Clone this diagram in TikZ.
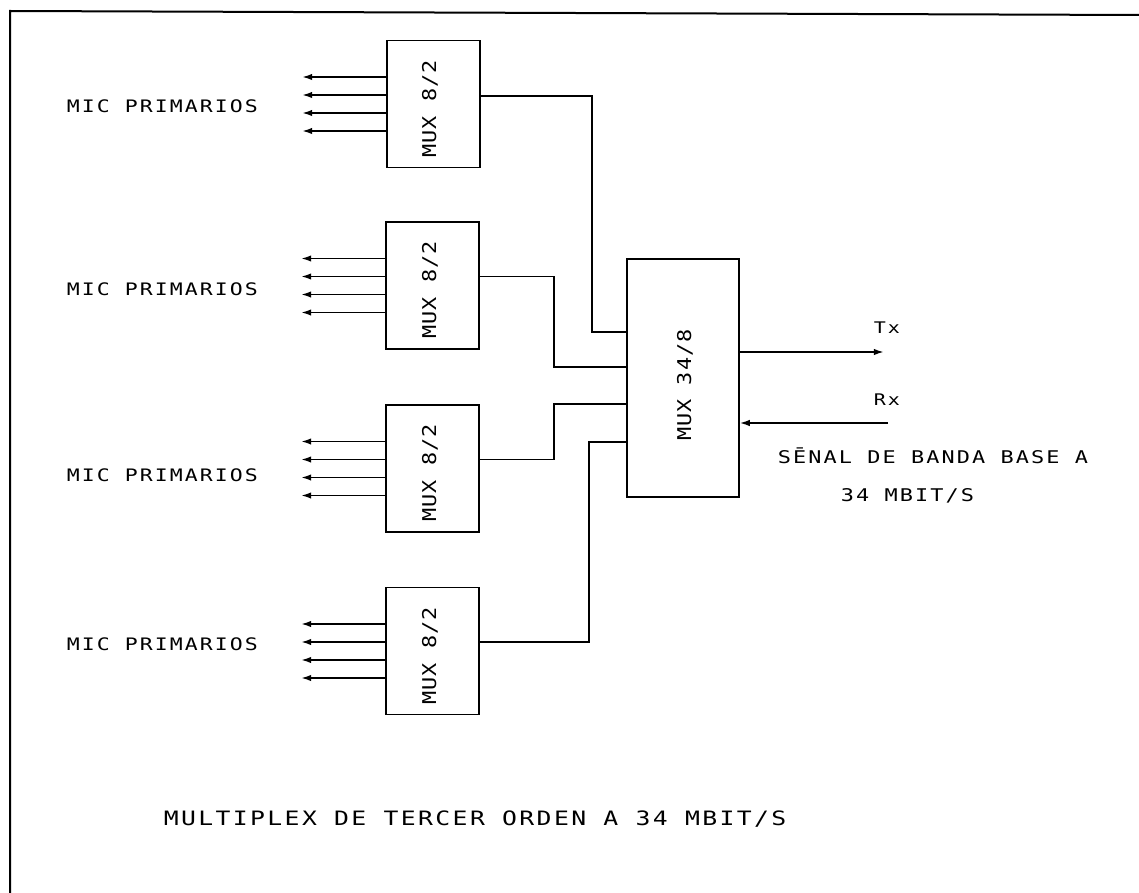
\documentclass[tikz,border=0pt]{standalone}
\usepackage{fontspec}
\usetikzlibrary{arrows.meta,calc}
\newfontfamily\plotfont[FakeStretch=1.25,LetterSpace=12]{DejaVu Sans Mono}
\newfontfamily\muxfont[FakeStretch=1.15,LetterSpace=5]{DejaVu Sans Mono}
\begin{document}
\begin{tikzpicture}[x=1pt,y=-1pt,
  line width=1.6pt,
  mbox/.style={draw,line width=1.6pt,minimum width=93pt,minimum height=127pt,inner sep=0pt},
  bigbox/.style={draw,line width=1.6pt,minimum width=112pt,minimum height=238pt,inner sep=0pt},
  arr/.style={-{Latex[length=10pt,width=6.5pt]},line width=1.6pt},
  wire/.style={line width=1.6pt},
  lbl/.style={anchor=base west,inner sep=0pt,font=\plotfont\fontsize{17.2}{19}\selectfont},
  muxlbl/.style={rotate=90,inner sep=0pt,font=\muxfont\fontsize{19}{20}\selectfont}
]
\useasboundingbox (0,0) rectangle (1139,893);
\fill[white] (0,0) rectangle (1139,893);
% frame
\coordinate (ftl) at (10,11);
\coordinate (ftr) at (1139,15);
\coordinate (fbl) at (10,893);
\draw[line width=2pt] (ftr) -- (ftl) -- (fbl);

% boxes
\node[mbox] (b1) at (433.5,104) {};
\node[mbox] (b2) at (432.5,285.5) {};
\node[mbox] (b3) at (432.5,468.5) {};
\node[mbox] (b4) at (432.5,651) {};
\node[bigbox] (big) at (683,378) {};

\node[muxlbl] (t1) at (430,109) {MUX 8/2};
\node[muxlbl] (t2) at (430,290) {MUX 8/2};
\node[muxlbl] (t3) at (430,473) {MUX 8/2};
\node[muxlbl] (t4) at (430,656) {MUX 8/2};
\node[muxlbl] (tbig) at (685,385) {MUX 34/8};

% left arrows
\foreach \b in {b1,b2,b3,b4}{
  \foreach \dy in {27,9,-9,-27}{
    \draw[arr] ([yshift=\dy pt]\b.west) -- ++(-84,0);
  }
}

% connections to MUX 34/8
\draw[wire] ([yshift=8pt]b1.east) -- ++(111,0) |- ([yshift=46pt]big.west);
\draw[wire] ([yshift=9pt]b2.east) -- ++(74,0) |- ([yshift=11pt]big.west);
\draw[wire] ([yshift=9pt]b3.east) -- ++(74,0) |- ([yshift=-26pt]big.west);
\draw[wire] ([yshift=9pt]b4.east) -- ++(109,0) |- ([yshift=-64pt]big.west);

% Tx / Rx
\draw[arr] ([yshift=26pt]big.east) -- ++(144,0);
\coordinate (rxs) at (888,423);
\draw[arr] (rxs) -- (rxs -| big.east);

% labels
\node[lbl] (m1) at (66,113) {MIC PRIMARIOS};
\node[lbl] (m2) at (66,295) {MIC PRIMARIOS};
\node[lbl] (m3) at (66,481) {MIC PRIMARIOS};
\node[lbl] (m4) at (66,650) {MIC PRIMARIOS};

\node[lbl,font=\plotfont\fontsize{16}{18}\selectfont] (tx) at (873,333) {Tx};
\node[lbl,font=\plotfont\fontsize{16}{18}\selectfont] (rx) at (873,405) {Rx};
\node[lbl,font=\plotfont\fontsize{17.5}{19}\selectfont] (s1) at (777,463) {S\=ENAL DE BANDA BASE A};
\node[lbl,font=\plotfont\fontsize{17.5}{19}\selectfont] (s2) at (840,501) {34 MBIT/S};
\node[lbl,font=\plotfont\fontsize{19.8}{22}\selectfont] (title) at (163,825) {MULTIPLEX DE TERCER ORDEN A 34 MBIT/S};
\end{tikzpicture}
\end{document}
